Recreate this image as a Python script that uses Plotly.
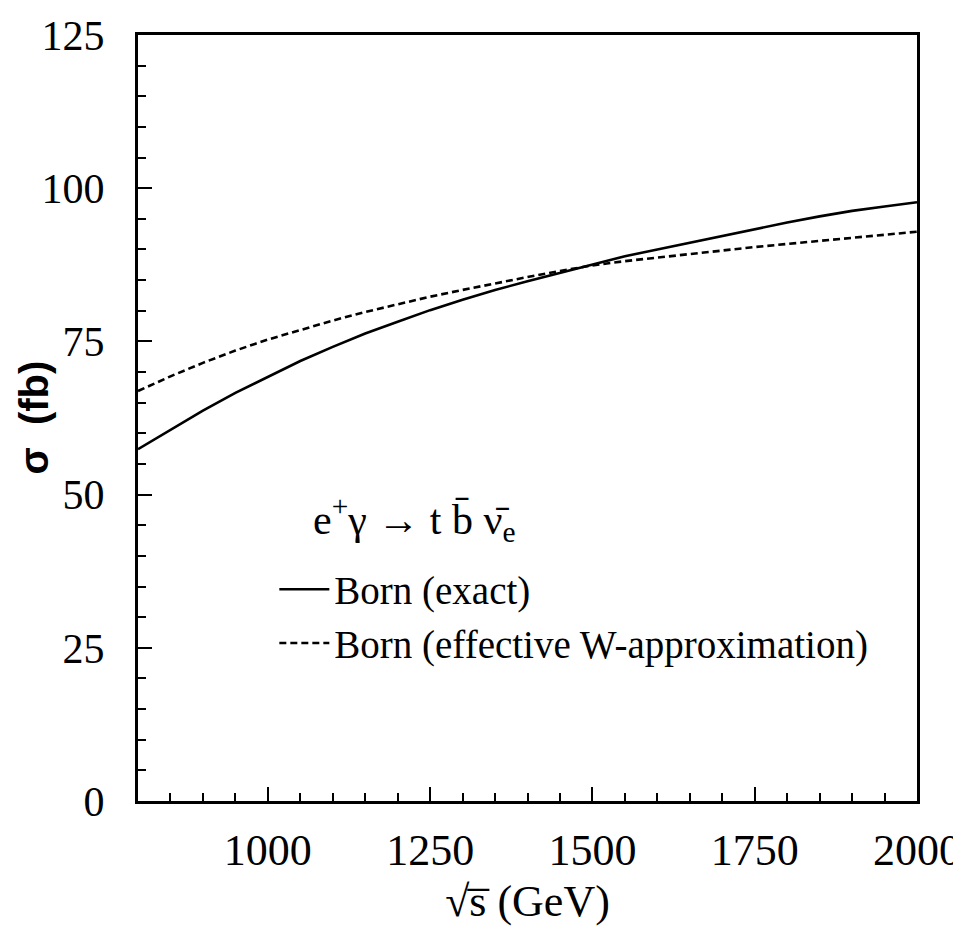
import plotly.graph_objects as go

# --- data ---
sqrt_s = [800, 850, 900, 950, 1000, 1050, 1100, 1150, 1200, 1250, 1300, 1350, 1400,
          1450, 1500, 1550, 1600, 1650, 1700, 1750, 1800, 1850, 1900, 1950, 2000]
born_exact = [57.4, 60.5, 63.7, 66.6, 69.2, 71.8, 74.1, 76.3, 78.2, 80.1, 81.8, 83.4, 84.8,
              86.2, 87.6, 88.9, 90.0, 91.1, 92.2, 93.4, 94.4, 95.4, 96.3, 97.0, 97.7]
born_ewa = [66.9, 69.3, 71.5, 73.5, 75.3, 76.9, 78.4, 79.8, 81.1, 82.3, 83.4, 84.5, 85.5,
            86.5, 87.4, 88.1, 88.7, 89.3, 89.9, 90.4, 90.9, 91.4, 91.9, 92.4, 92.9]
series_names = ["Born (exact)", "Born (effective W-approximation)"]
x_ticks = [1000, 1250, 1500, 1750, 2000]
y_ticks = [0, 25, 50, 75, 100, 125]
process_label = "e<sup>+</sup>γ → t b\u0304 ν\u0304<sub>e</sub>"
x_title = "√s\u0305 (GeV)"
y_title = "σ  (fb)"

SERIF = "Liberation Serif, Times New Roman, serif"

fig = go.Figure()
fig.add_trace(go.Scatter(x=sqrt_s, y=born_exact, mode="lines", name=series_names[0],
                         line=dict(color="black", width=2.6)))
fig.add_trace(go.Scatter(x=sqrt_s, y=born_ewa, mode="lines", name=series_names[1],
                         line=dict(color="black", width=2.6, dash="7px,4px")))

fig.add_annotation(x=0.222, y=0.328, xref="paper", yref="paper", xanchor="left", yanchor="bottom",
                   text=process_label, showarrow=False,
                   font=dict(family=SERIF, size=42, color="black"))

# y-axis title placed explicitly
fig.add_annotation(x=-0.134, y=0.5, xref="paper", yref="paper", xanchor="center", yanchor="middle",
                   text=y_title, textangle=-90, showarrow=False,
                   font=dict(family="Liberation Sans, Arial, sans-serif", size=40,
                             color="black", weight="bold"))

axis_common = dict(showline=True, linecolor="black", linewidth=3, mirror=True,
                   ticks="inside", tickcolor="black", tickwidth=2, ticklen=14,
                   showgrid=False, zeroline=False)

fig.update_xaxes(range=[800, 2000], tickvals=x_ticks, ticktext=[str(v) for v in x_ticks],
                 minor=dict(dtick=50, ticks="inside", ticklen=8, tickwidth=2, tickcolor="black"),
                 ticklabelstandoff=8,
                 tickfont=dict(family=SERIF, size=44, color="black"),
                 title=dict(text=x_title, font=dict(family=SERIF, size=44, color="black"),
                            standoff=12),
                 **axis_common)
fig.update_yaxes(range=[0, 125], tickvals=y_ticks, ticktext=[str(v) for v in y_ticks],
                 minor=dict(dtick=5, ticks="inside", ticklen=8, tickwidth=2, tickcolor="black"),
                 ticklabelstandoff=22,
                 tickfont=dict(family=SERIF, size=42, color="black"),
                 **axis_common)

fig.update_layout(
    width=953, height=941,
    margin=dict(l=130, r=44, t=27, b=148, autoexpand=False),
    paper_bgcolor="white", plot_bgcolor="white",
    showlegend=True,
    legend=dict(x=0.175, y=0.318, xanchor="left", yanchor="top",
                bgcolor="rgba(0,0,0,0)", borderwidth=0,
                font=dict(family=SERIF, size=39, color="black"),
                itemwidth=50, tracegroupgap=0),
)

fig.write_html("out.html")
